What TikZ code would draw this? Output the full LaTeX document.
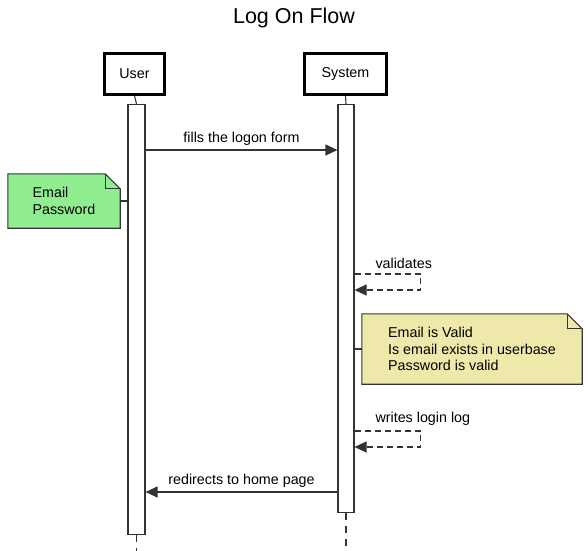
\documentclass[tikz,border=0pt]{standalone}
\usepackage{fontspec}
\setmainfont{Liberation Sans}
\usetikzlibrary{arrows.meta,positioning}

\definecolor{notegreen}{HTML}{90EE90}
\definecolor{noteyellow}{HTML}{EEE8AA}

\tikzset{
    actorbox/.style={draw, line width=2.6pt, minimum height=41pt, font=\fontsize{14.3}{16}\selectfont},
    actbar/.style={draw=black!80, fill=white, line width=1.1pt, minimum width=16pt, inner sep=0pt, anchor=north},
    lifeline/.style={draw=black!80, line width=1.1pt, dash pattern=on 7pt off 6pt},
    msg/.style={draw=black!80, line width=1.1pt, -{Triangle[length=12pt,width=11pt]}},
    selfmsg/.style={msg, dash pattern=on 6pt off 4pt},
    notebox/.style={minimum width=#1, inner sep=0pt},
    notetext/.style={align=left, font=\fontsize{14.3}{16.5}\selectfont},
    notepath/.style={draw=black!80, line width=1.1pt},
    msglabel/.style={font=\fontsize{14.3}{16}\selectfont}
}

\begin{document}
\begin{tikzpicture}[x=1pt, y=-1pt]
    \useasboundingbox (0,0) rectangle (588,550);

    % Titulo
    \node[font=\fontsize{21.5}{24}\selectfont] (title) at (294,18) {Log On Flow};

    % Actores
    \node[actorbox, minimum width=60pt] (user) at (134.5,74) {User};
    \node[actorbox, minimum width=82pt] (system) at (345.5,74) {System};

    % Barras de activacion
    \node[actbar, minimum width=17pt, minimum height=430pt] (useract) at (136.5,104) {};
    \node[actbar, minimum height=408pt] (sysact) at (346,104) {};
    \draw[draw=black!80, line width=1.1pt] (user.south) -- (useract.north);
    \draw[draw=black!80, line width=1.1pt] (system.south) -- (sysact.north);
    \coordinate (bottom) at (0,552);
    \draw[lifeline] (useract.south) -- (useract.south |- bottom);
    \draw[lifeline] (sysact.south) -- (sysact.south |- bottom);

    % Mensajes
    \coordinate (m1) at (0,150);
    \draw[msg] (useract.east |- m1) -- (sysact.west |- m1)
        node[midway, above=1pt, msglabel] {fills the logon form};

    \coordinate (m2) at (0,274);
    \draw[selfmsg] (sysact.east |- m2) -- ++(66,0) -- ++(0,16) -- ++(-66,0);
    \node[msglabel, anchor=south west] (validates) at (372,272) {validates};

    \coordinate (m3) at (0,431);
    \draw[selfmsg] (sysact.east |- m3) -- ++(66,0) -- ++(0,16) -- ++(-66,0);
    \node[msglabel, anchor=south west] (writeslog) at (372,429) {writes login log};

    \coordinate (m4) at (0,492);
    \draw[msg] (sysact.west |- m4) -- (useract.east |- m4)
        node[midway, above=1pt, msglabel] {redirects to home page};

    % Nota verde
    \node[notebox=112pt, minimum height=54pt] (emailnote) at (64,201) {};
    \filldraw[notepath, fill=notegreen] (emailnote.north west) -- ([xshift=-15pt]emailnote.north east)
        -- ([yshift=-15pt]emailnote.north east) -- (emailnote.south east)
        -- (emailnote.south west) -- cycle;
    \draw[notepath] ([xshift=-15pt]emailnote.north east) -- ([xshift=-15pt,yshift=-15pt]emailnote.north east)
        -- ([yshift=-15pt]emailnote.north east);
    \node[notetext] (emailtext) at (emailnote) {Email\\Password};
    \draw[notepath] (emailnote.east) -- (useract.west |- emailnote.east);

    % Nota amarilla
    \node[notebox=220pt, minimum height=70pt] (checknote) at (472,349) {};
    \filldraw[notepath, fill=noteyellow] (checknote.north west) -- ([xshift=-15pt]checknote.north east)
        -- ([yshift=-15pt]checknote.north east) -- (checknote.south east)
        -- (checknote.south west) -- cycle;
    \draw[notepath] ([xshift=-15pt]checknote.north east) -- ([xshift=-15pt,yshift=-15pt]checknote.north east)
        -- ([yshift=-15pt]checknote.north east);
    \node[notetext] (checktext) at (checknote)
        {Email is Valid\\Is email exists in userbase\\Password is valid};
    \draw[notepath] (sysact.east |- checknote.west) -- (checknote.west);
\end{tikzpicture}
\end{document}
